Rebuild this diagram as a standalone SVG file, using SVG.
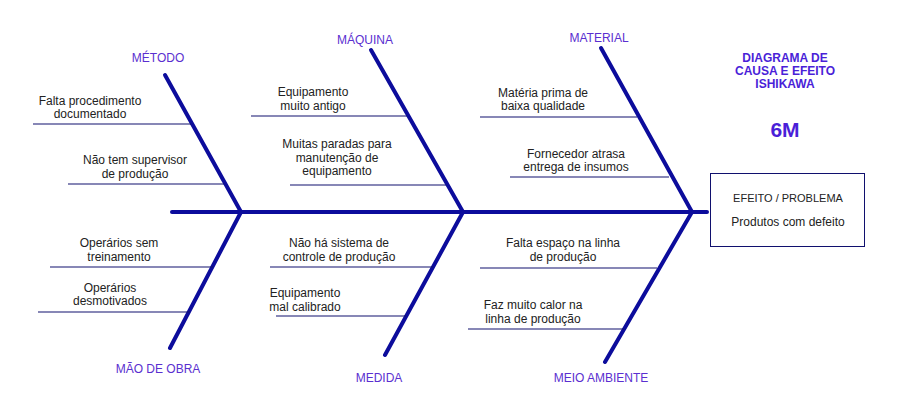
<svg xmlns="http://www.w3.org/2000/svg" width="900" height="420" viewBox="0 0 900 420">
<style>
.bone{stroke:#0c0c9c;stroke-width:4;stroke-linecap:round;fill:none}
.cl{stroke:#10106e;stroke-width:1.2}
.t{font-family:"Liberation Sans",Arial,sans-serif;font-size:12px;fill:#222;text-anchor:middle}
.lb{font-family:"Liberation Sans",Arial,sans-serif;font-size:12px;fill:#5a2fd0;text-anchor:middle}
.ti{font-family:"Liberation Sans",Arial,sans-serif;font-size:12px;font-weight:bold;fill:#4a1fd8;text-anchor:middle}
</style>
<rect width="900" height="420" fill="#fff"/>
<g id="connectors">
<line class="bone" x1="172" y1="212" x2="707" y2="212"/>
<line class="bone" x1="165" y1="75" x2="241" y2="212"/>
<line class="bone" x1="371" y1="50" x2="463" y2="212"/>
<line class="bone" x1="601" y1="48" x2="692" y2="212"/>
<line class="bone" x1="241" y1="212" x2="170" y2="348"/>
<line class="bone" x1="463" y1="212" x2="385" y2="355"/>
<line class="bone" x1="692" y1="212" x2="605" y2="362"/>
<line class="cl" x1="33" y1="124" x2="191" y2="124"/>
<line class="cl" x1="68" y1="184" x2="224" y2="184"/>
<line class="cl" x1="251" y1="116" x2="407" y2="116"/>
<line class="cl" x1="290" y1="185" x2="446" y2="185"/>
<line class="cl" x1="480" y1="117" x2="637" y2="117"/>
<line class="cl" x1="510" y1="177" x2="669" y2="177"/>
<line class="cl" x1="50" y1="267" x2="213" y2="267"/>
<line class="cl" x1="38" y1="312" x2="190" y2="312"/>
<line class="cl" x1="270" y1="267" x2="433" y2="267"/>
<line class="cl" x1="276" y1="316" x2="406" y2="316"/>
<line class="cl" x1="480" y1="268" x2="657" y2="268"/>
<line class="cl" x1="468" y1="329" x2="624" y2="329"/>
</g>
<g id="metodo"><text class="lb" x="158" y="62">MÉTODO</text>
<text class="t" x="90" y="105">Falta procedimento</text><text class="t" x="90" y="118">documentado</text>
<text class="t" x="135" y="164">Não tem supervisor</text><text class="t" x="135" y="178">de produção</text></g>
<g id="maquina"><text class="lb" x="365" y="44">MÁQUINA</text>
<text class="t" x="313" y="96">Equipamento</text><text class="t" x="313" y="110">muito antigo</text>
<text class="t" x="337" y="148">Muitas paradas para</text><text class="t" x="337" y="162">manutenção de</text><text class="t" x="337" y="175">equipamento</text></g>
<g id="material"><text class="lb" x="599" y="42">MATERIAL</text>
<text class="t" x="543" y="97">Matéria prima de</text><text class="t" x="543" y="110">baixa qualidade</text>
<text class="t" x="576" y="158">Fornecedor atrasa</text><text class="t" x="576" y="171">entrega de insumos</text></g>
<g id="maodeobra"><text class="lb" x="158" y="373">MÃO DE OBRA</text>
<text class="t" x="119" y="247">Operários sem</text><text class="t" x="119" y="261">treinamento</text>
<text class="t" x="110" y="292">Operários</text><text class="t" x="110" y="305">desmotivados</text></g>
<g id="medida"><text class="lb" x="379" y="382">MEDIDA</text>
<text class="t" x="339" y="247">Não há sistema de</text><text class="t" x="339" y="261">controle de produção</text>
<text class="t" x="305" y="297">Equipamento</text><text class="t" x="305" y="311">mal calibrado</text></g>
<g id="meioambiente"><text class="lb" x="601" y="382">MEIO AMBIENTE</text>
<text class="t" x="563" y="247">Falta espaço na linha</text><text class="t" x="563" y="261">de produção</text>
<text class="t" x="533" y="309">Faz muito calor na</text><text class="t" x="533" y="323">linha de produção</text></g>
<g id="titulo"><text class="ti" x="785" y="62">DIAGRAMA DE</text><text class="ti" x="785" y="75">CAUSA E EFEITO</text><text class="ti" x="785" y="88">ISHIKAWA</text>
<text x="785" y="137" style="font-family:'Liberation Sans',Arial,sans-serif;font-size:21px;font-weight:bold;fill:#4a1fd8;text-anchor:middle">6M</text></g>
<g id="efeito"><rect x="710.5" y="173.5" width="154" height="73" fill="#fff" stroke="#10106e" stroke-width="1"/>
<text class="t" x="788" y="202" style="font-size:11px">EFEITO / PROBLEMA</text>
<text class="t" x="788" y="226">Produtos com defeito</text></g>
</svg>
